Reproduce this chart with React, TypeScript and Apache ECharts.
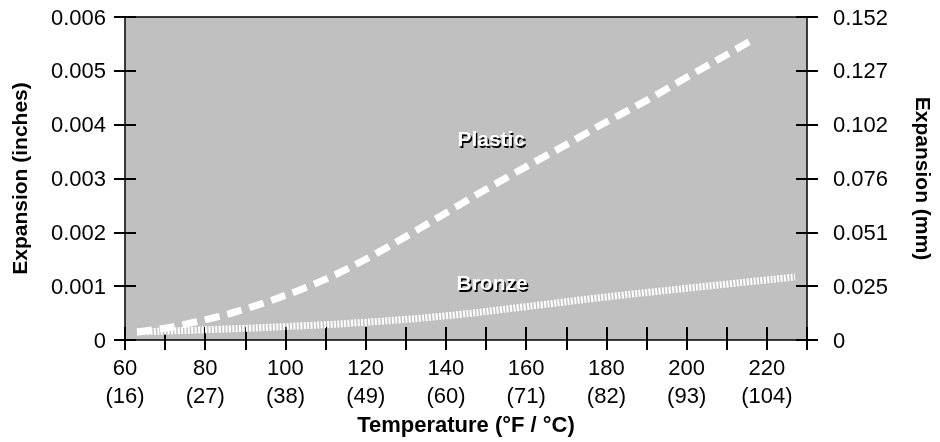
import React, { useEffect, useRef } from "react";
import * as echarts from "echarts";

const tickF = [60, 80, 100, 120, 140, 160, 180, 200, 220];
const tickC = [16, 27, 38, 49, 60, 71, 82, 93, 104];
const mmLabels = ["0", "0.025", "0.051", "0.076", "0.102", "0.127", "0.152"];

const plasticTemp = [63, 70, 78, 88, 100, 110, 120, 130, 140, 150, 160, 170, 178, 190, 200, 210, 216];
const plasticExp = [0.00015, 0.00022, 0.00034, 0.00053, 0.00083, 0.00113, 0.0015, 0.00192, 0.00236, 0.0028, 0.00322, 0.00363, 0.00397, 0.00445, 0.00488, 0.0053, 0.00556];

const bronzeTemp = [63, 80, 100, 120, 140, 160, 180, 200, 227];
const bronzeExp = [0.00015, 0.00019, 0.00025, 0.00033, 0.00045, 0.00062, 0.0008, 0.00096, 0.00117];

const labelNames = ["Plastic", "Bronze"];
const labelTemp = [151.3, 151.5];
const labelExp = [0.00374, 0.00106];

const FONT = "'Liberation Sans', Arial, Helvetica, sans-serif";

export default function App() {
  const ref = useRef<HTMLDivElement>(null);
  useEffect(() => {
    if (!ref.current) return;
    const chart = echarts.init(ref.current, undefined, { renderer: "svg" });
    const pair = (xs: number[], ys: number[]) => xs.map((x, i) => [x, ys[i]]);
    const labelData = labelNames.map((n, i) => ({ name: n, value: [labelTemp[i], labelExp[i]] }));
    const labelStyle = {
      show: true,
      position: "inside" as const,
      formatter: "{b}",
      fontFamily: FONT,
      fontSize: 21,
      fontWeight: "bold" as const,
      textBorderWidth: 0,
      textBorderColor: "transparent",
      opacity: 1,
    };
    const yAxisCommon = {
      type: "value" as const,
      min: 0,
      max: 0.006,
      interval: 0.001,
      offset: -11,
      axisLine: { show: false },
      axisTick: { show: true, inside: false, length: 22, lineStyle: { color: "#000", width: 2 } },
      splitLine: { show: false },
      nameLocation: "middle" as const,
      nameTextStyle: { fontFamily: FONT, fontSize: 21, fontWeight: "bold" as const, color: "#000" },
    };
    chart.setOption({
      animation: false,
      grid: {
        left: 125,
        right: 133,
        top: 17,
        bottom: 102,
        containLabel: false,
        outerBoundsMode: "none",
        show: true,
        backgroundColor: "#c0c0c0",
        borderColor: "#000",
        borderWidth: 1.5,
      },
      xAxis: {
        type: "value",
        min: 60,
        max: 230,
        interval: 10,
        offset: -13,
        axisLine: { show: false },
        axisTick: { show: true, inside: false, length: 23, lineStyle: { color: "#000", width: 2 } },
        splitLine: { show: false },
        axisLabel: {
          margin: 26,
          fontFamily: FONT,
          fontSize: 22,
          lineHeight: 28,
          color: "#000",
          showMaxLabel: true,
          formatter: (v: number) => {
            const i = tickF.indexOf(Math.round(v));
            return i >= 0 ? `${tickF[i]}\n(${tickC[i]})` : "";
          },
        },
        name: "Temperature (°F / °C)",
        nameLocation: "middle",
        nameGap: 86,
        nameTextStyle: { fontFamily: FONT, fontSize: 22, fontWeight: "bold", color: "#000" },
      },
      yAxis: [
        {
          ...yAxisCommon,
          position: "left",
          name: "Expansion (inches)",
          nameGap: 106,
          axisLabel: {
            margin: 30,
            fontFamily: FONT,
            fontSize: 22,
            color: "#000",
            formatter: (v: number) => (Math.abs(v) < 1e-9 ? "0" : v.toFixed(3)),
          },
        },
        {
          ...yAxisCommon,
          position: "right",
          name: "Expansion (mm)",
          nameGap: 117,
          nameRotate: -90,
          axisLabel: {
            margin: 37,
            fontFamily: FONT,
            fontSize: 22,
            color: "#000",
            formatter: (v: number) => mmLabels[Math.round(v / 0.001)] ?? "",
          },
        },
      ],
      series: [
        {
          name: "Bronze",
          type: "line",
          data: pair(bronzeTemp, bronzeExp),
          smooth: true,
          showSymbol: false,
          lineStyle: { color: "#fff", width: 7, type: [2, 1.4], cap: "butt" },
          z: 2,
        },
        {
          name: "Plastic",
          type: "line",
          data: pair(plasticTemp, plasticExp),
          smooth: 0.3,
          showSymbol: false,
          lineStyle: { color: "#fff", width: 7, type: [15, 8], cap: "butt" },
          z: 3,
        },
        {
          name: "labelShadow",
          type: "scatter",
          symbolSize: 0,
          silent: true,
          itemStyle: { color: "#000", opacity: 1 },
          data: labelData,
          label: { ...labelStyle, color: "#000", offset: [1.5, 1.5] },
          z: 4,
        },
        {
          name: "labels",
          type: "scatter",
          symbolSize: 0,
          silent: true,
          itemStyle: { color: "#fff", opacity: 1 },
          data: labelData,
          label: { ...labelStyle, color: "#fff" },
          z: 5,
        },
      ],
    });
    return () => chart.dispose();
  }, []);
  return <div ref={ref} style={{ position: "fixed", left: 0, top: 0, width: 940, height: 442 }} />;
}
